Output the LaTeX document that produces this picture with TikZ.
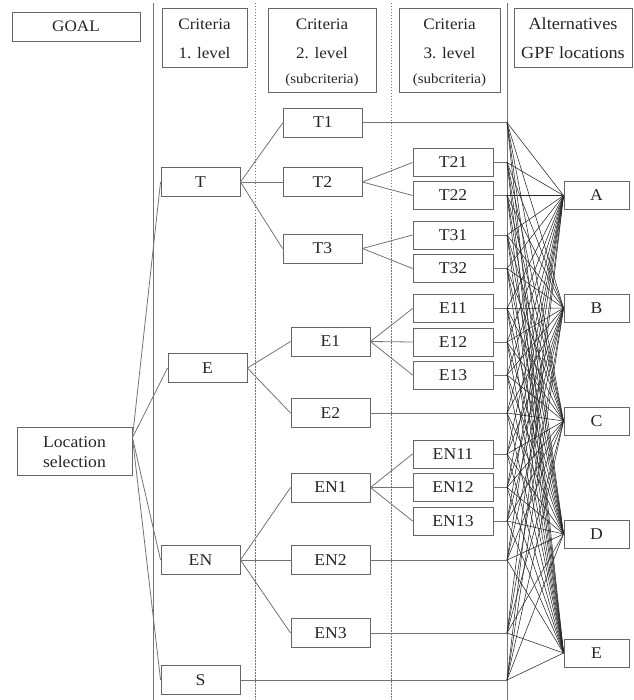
\documentclass[tikz,border=0pt]{standalone}
\usepackage{fontspec}
\setmainfont{Liberation Serif}[FakeStretch=1.07]
\usetikzlibrary{positioning}

\begin{document}
\begin{tikzpicture}[
  x=1pt, y=-1pt, font=\fontsize{16.5}{20}\selectfont, text=black!85,
  box/.style={draw=black!60, line width=0.9pt, fill=white,
              minimum width=79pt, minimum height=29pt, inner sep=0pt},
  leaf/.style={box, minimum width=80pt, minimum height=28pt},
  alt/.style={box, minimum width=65pt, minimum height=28pt},
  hdr/.style={draw=black!60, line width=0.9pt, fill=white, align=center,
              inner sep=0pt, font=\fontsize{16}{29}\selectfont},
  tree/.style={draw=black!55, line width=0.8pt},
  fan/.style={draw=black!85, line width=0.55pt},
  rule/.style={draw=black!55, line width=1pt},
  dotrule/.style={draw=black!55, line width=0.7pt, dash pattern=on 1.5pt off 1.5pt},
]
  \useasboundingbox (0,0) rectangle (633,700);

  % column separators
  \draw[rule] (153,3) -- (153,700);
  \draw[dotrule] (255,3) -- (255,700);
  \draw[dotrule] (391,3) -- (391,700);
  \draw[rule] (507,3) -- (507,700);
  \coordinate (rail) at (507,0);

  % headers
  \node[hdr, minimum width=128pt, minimum height=29pt] (hgoal) at (76,26.5) {GOAL};
  \node[hdr, minimum width=85pt, text height=51pt, text depth=8pt] (hlev1) at (204.5,37.5)
    {Criteria\\1. level};
  \node[hdr, minimum width=108pt, text height=76pt, text depth=8pt] (hlev2) at (322,50)
    {Criteria\\2. level\\[-4pt]{\fontsize{14}{15}\selectfont(subcriteria)}};
  \node[hdr, minimum width=101pt, text height=76pt, text depth=8pt] (hlev3) at (449.5,50)
    {Criteria\\3. level\\[-4pt]{\fontsize{14}{15}\selectfont(subcriteria)}};
  \node[hdr, minimum width=118pt, text height=51pt, text depth=8pt,
        font=\fontsize{17}{29}\selectfont] (halt) at (573,37.5)
    {Alternatives\\GPF locations};

  % goal and criteria
  \node[box, minimum width=115pt, minimum height=48pt, align=center,
        text height=40pt, text depth=8pt] (goal) at (74.5,451) {Location\\selection};

  \node[box] (T) at (200.5,182) {T};
  \node[box] (E) at (207.5,368) {E};
  \node[box] (EN) at (200.5,560) {EN};
  \node[box] (S) at (200.5,680) {S};

  \node[box] (T1) at (323,122.5) {T1};
  \node[box] (T2) at (322.5,182) {T2};
  \node[box] (T3) at (322.5,248.5) {T3};
  \node[box] (E1) at (330.5,341.5) {E1};
  \node[box] (E2) at (330.5,413) {E2};
  \node[box] (EN1) at (330.5,487.5) {EN1};
  \node[box] (EN2) at (330.5,560) {EN2};
  \node[box] (EN3) at (330.5,633) {EN3};

  \node[leaf] (T21) at (453,162.5) {T21};
  \node[leaf] (T22) at (453,195.5) {T22};
  \node[leaf] (T31) at (453,235) {T31};
  \node[leaf] (T32) at (453,268.5) {T32};
  \node[leaf] (E11) at (453,308.5) {E11};
  \node[leaf] (E12) at (453,342) {E12};
  \node[leaf] (E13) at (453,375) {E13};
  \node[leaf] (EN11) at (453,454) {EN11};
  \node[leaf] (EN12) at (453,487.5) {EN12};
  \node[leaf] (EN13) at (453,521) {EN13};

  % alternatives
  \node[alt] (altA) at (596.5,195.5) {A};
  \node[alt] (altB) at (596.5,308) {B};
  \node[alt] (altC) at (596.5,421) {C};
  \node[alt] (altD) at (596.5,534) {D};
  \node[alt] (altE) at (596.5,653) {E};

  % hierarchy
  \foreach \c in {T,E,EN,S} \draw[tree] (goal.13) -- (\c.west);
  \foreach \c in {T1,T2,T3} \draw[tree] (T.east) -- (\c.west);
  \foreach \c in {E1,E2} \draw[tree] (E.east) -- (\c.west);
  \foreach \c in {EN1,EN2,EN3} \draw[tree] (EN.east) -- (\c.west);
  \foreach \c in {T21,T22} \draw[tree] (T2.east) -- (\c.west);
  \foreach \c in {T31,T32} \draw[tree] (T3.east) -- (\c.west);
  \foreach \c in {E11,E12,E13} \draw[tree] (E1.east) -- (\c.west);
  \foreach \c in {EN11,EN12,EN13} \draw[tree] (EN1.east) -- (\c.west);

  % every leaf to every alternative
  \foreach \l in {T1,T21,T22,T31,T32,E11,E12,E13,E2,EN11,EN12,EN13,EN2,EN3,S}{
    \draw[tree] (\l.east) -- (\l.east -| rail) coordinate (h\l);
    \foreach \k in {A,B,C,D,E}
      \draw[fan] (h\l) -- (alt\k.west);
  }
\end{tikzpicture}
\end{document}
